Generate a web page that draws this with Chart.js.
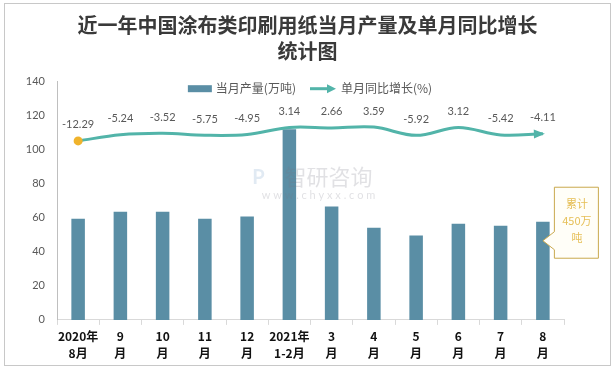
<!DOCTYPE html>
<html><head><meta charset="utf-8">
<script src="https://cdn.jsdelivr.net/npm/chart.js@4"></script>
<style>html,body{margin:0;padding:0;background:#fff;}#wrap{width:615px;height:369px;position:relative;}</style>
</head><body><div id="wrap"><canvas id="c" width="615" height="369"></canvas></div>
<script>
const categories = [["2020年","8月"],["9","月"],["10","月"],["11","月"],["12","月"],["2021年","1-2月"],["3","月"],["4","月"],["5","月"],["6","月"],["7","月"],["8","月"]];
const output = [59.5, 63.6, 63.6, 59.5, 60.8, 112.0, 66.7, 54.1, 49.6, 56.5, 55.3, 57.7];
const growth = [-12.29, -5.24, -3.52, -5.75, -4.95, 3.14, 2.66, 3.59, -5.92, 3.12, -5.42, -4.11];
const growthLabels = ["-12.29","-5.24","-3.52","-5.75","-4.95","3.14","2.66","3.59","-5.92","3.12","-5.42","-4.11"];
const yTicks = [0, 20, 40, 60, 80, 100, 120, 140];
const seriesNames = ["当月产量(万吨)", "单月同比增长(%)"];
const titleLines = ["近一年中国涂布类印刷用纸当月产量及单月同比增长", "统计图"];
const calloutLines = ["累计", "450万", "吨"];

const BAR = '#5a8ea5', LINE = '#52b4a9', DOT = '#f0b32c', TXT = '#595959';
const NUMFONT = "Lato, 'Noto Sans CJK SC', sans-serif";
const CJK = "'Noto Sans CJK SC', sans-serif";

const extras = {
  id: 'extras',
  afterDraw(chart) {
    const ctx = chart.ctx;
    const ca = chart.chartArea;
    const W = chart.width, H = chart.height;
    ctx.save();
    // outer border
    ctx.strokeStyle = '#c8c8c8'; ctx.lineWidth = 1;
    ctx.strokeRect(4.5, 3.5, W - 9, H - 7);
    // watermark
    const cx = (ca.left + ca.right) / 2 + 4;
    ctx.fillStyle = 'rgba(120,120,130,0.22)';
    ctx.font = "22px " + CJK; ctx.textAlign = 'center'; ctx.textBaseline = 'middle';
    ctx.fillText('智研咨询', cx + 14, ca.top + 95);
    ctx.font = "11px " + NUMFONT;
    ctx.fillText('w w w . c h y x x . c o m', cx + 4, ca.top + 114);
    ctx.fillStyle = 'rgba(90,140,190,0.18)';
    ctx.font = "bold 20px " + NUMFONT;
    ctx.fillText('P', cx - 56, ca.top + 96);

    // line data labels + arrow
    const lineMeta = chart.getDatasetMeta(1);
    ctx.fillStyle = TXT; ctx.font = "11px " + NUMFONT; ctx.textAlign = 'center'; ctx.textBaseline = 'middle';
    lineMeta.data.forEach((pt, i) => {
      ctx.fillText(growthLabels[i], pt.x, pt.y - 16);
    });
    const n = lineMeta.data.length;
    const last = lineMeta.data[n - 1];
    const cp = last.cp1x !== undefined ? {x: last.cp1x, y: last.cp1y} : lineMeta.data[n - 2];
    let ang = Math.atan2(last.y - cp.y, last.x - cp.x);
    ctx.fillStyle = LINE;
    ctx.beginPath();
    ctx.moveTo(last.x + 2 * Math.cos(ang), last.y + 2 * Math.sin(ang));
    ctx.lineTo(last.x - 9 * Math.cos(ang) + 4.5 * Math.sin(ang), last.y - 9 * Math.sin(ang) - 4.5 * Math.cos(ang));
    ctx.lineTo(last.x - 9 * Math.cos(ang) - 4.5 * Math.sin(ang), last.y - 9 * Math.sin(ang) + 4.5 * Math.cos(ang));
    ctx.closePath(); ctx.fill();

    // legend
    ctx.font = "12px " + CJK; ctx.textBaseline = 'middle'; ctx.textAlign = 'left';
    const w1 = ctx.measureText(seriesNames[0]).width, w2 = ctx.measureText(seriesNames[1]).width;
    const total = 24 + 4 + w1 + 14 + 26 + 5 + w2;
    let lx = 310 - total / 2; const ly = ca.top + 7;
    ctx.fillStyle = BAR; ctx.fillRect(lx, ly - 3.5, 24, 7);
    lx += 28; ctx.fillStyle = TXT; ctx.fillText(seriesNames[0], lx, ly);
    lx += w1 + 14;
    ctx.strokeStyle = LINE; ctx.lineWidth = 3; ctx.beginPath(); ctx.moveTo(lx, ly); ctx.lineTo(lx + 18, ly); ctx.stroke();
    ctx.fillStyle = LINE; ctx.beginPath(); ctx.moveTo(lx + 26, ly); ctx.lineTo(lx + 17, ly - 4.5); ctx.lineTo(lx + 17, ly + 4.5); ctx.closePath(); ctx.fill();
    lx += 31; ctx.fillStyle = TXT; ctx.fillText(seriesNames[1], lx, ly);

    // callout attached to last bar
    const barMeta = chart.getDatasetMeta(0);
    const lb = barMeta.data[barMeta.data.length - 1];
    const tipX = lb.x, tipY = lb.y + 19;
    const bx = tipX + 11, by = lb.y - 35, bw = 44, bh = 71;
    ctx.fillStyle = '#fffef8'; ctx.strokeStyle = '#c9a94e'; ctx.lineWidth = 1;
    ctx.beginPath();
    ctx.moveTo(bx + .5, by + .5); ctx.lineTo(bx + bw + .5, by + .5); ctx.lineTo(bx + bw + .5, by + bh + .5);
    ctx.lineTo(bx + .5, by + bh + .5); ctx.lineTo(bx + .5, tipY + 9); ctx.lineTo(tipX, tipY); ctx.lineTo(bx + .5, tipY - 9);
    ctx.closePath(); ctx.fill(); ctx.stroke();
    ctx.fillStyle = '#e6bf57'; ctx.font = "11px " + CJK; ctx.textAlign = 'center';
    calloutLines.forEach((t, i) => ctx.fillText(t, bx + bw / 2 + 1, by + 17 + i * 17));
    ctx.restore();
  }
};

new Chart(document.getElementById('c'), {
  data: {
    labels: categories,
    datasets: [
      { type: 'bar', label: seriesNames[0], data: output, backgroundColor: BAR, barPercentage: 0.32, categoryPercentage: 1, yAxisID: 'y', order: 2 },
      { type: 'line', label: seriesNames[1], data: growth, borderColor: LINE, borderWidth: 3, tension: 0.35, cubicInterpolationMode: 'default',
        pointRadius: growth.map((v, i) => i === 0 ? 4.5 : 0), pointBackgroundColor: DOT, pointBorderColor: DOT, pointBorderWidth: 0,
        yAxisID: 'y2', order: 1, fill: false }
    ]
  },
  options: {
    responsive: false, animation: false, devicePixelRatio: 1,
    layout: { padding: { left: 4, right: 4, top: 0, bottom: 4.5 } },
    plugins: {
      legend: { display: false }, tooltip: { enabled: false },
      title: { display: true, text: titleLines, color: '#3a3a3a', font: { family: CJK, size: 20, weight: 'bold', lineHeight: 1.28 }, padding: { top: 13, bottom: 17.5 } }
    },
    scales: {
      x: {
        grid: { display: true, drawOnChartArea: false, drawTicks: true, tickLength: 5, color: '#d9d9d9', offset: true },
        border: { display: true, color: '#d9d9d9' },
        ticks: { color: '#111', font: { family: CJK, size: 12, weight: 'bold', lineHeight: 1.4 }, padding: 3, maxRotation: 0, autoSkip: false }
      },
      y: {
        min: 0, max: 140, afterBuildTicks: (s) => { s.ticks = yTicks.map(v => ({ value: v })); },
        afterFit: (s) => { s.width = 53; },
        grid: { display: false, drawTicks: false }, border: { display: true, color: '#bfbfbf' },
        ticks: { color: TXT, font: { family: NUMFONT, size: 11 }, padding: 12 }
      },
      y2: { display: true, position: 'right', min: -217.8, max: 55.7,
        afterFit: (s) => { s.width = 47; },
        grid: { display: false, drawTicks: false }, border: { display: false }, ticks: { display: false } }
    }
  },
  plugins: [extras]
});
</script></body></html>
